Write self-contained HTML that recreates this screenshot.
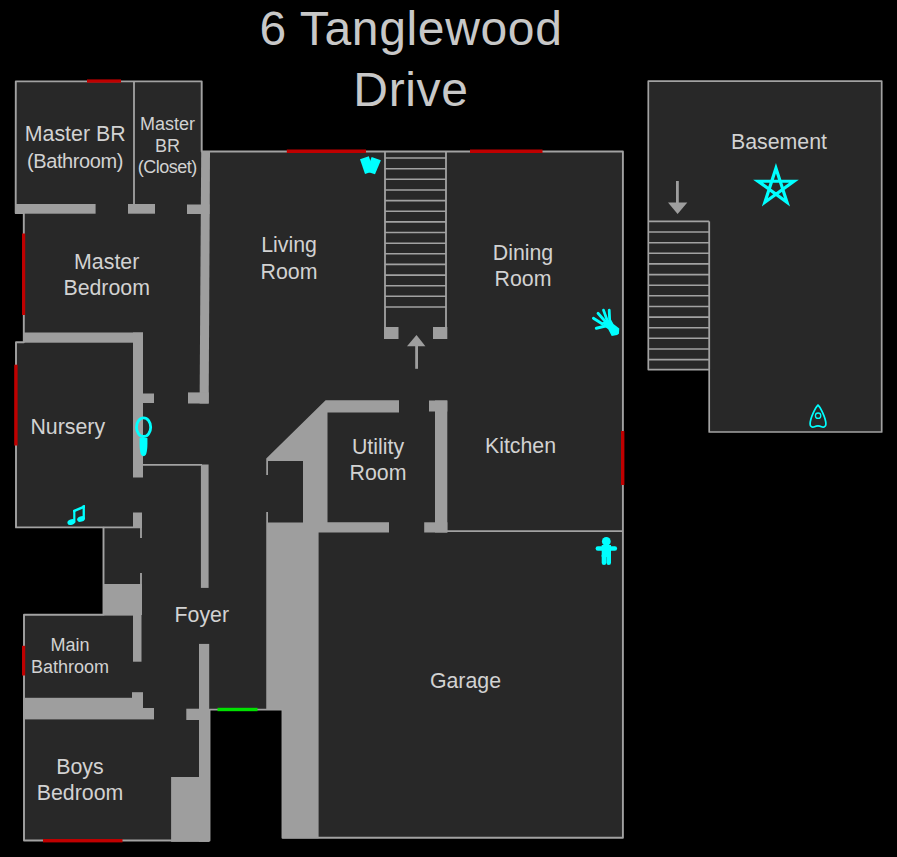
<!DOCTYPE html>
<html>
<head>
<meta charset="utf-8">
<style>
html,body{margin:0;padding:0;background:#000;width:897px;height:857px;overflow:hidden}
svg{display:block}
text{font-family:"Liberation Sans",sans-serif;fill:#d2d2d2;text-anchor:middle}
.t{font-size:21.33px}
.s{font-size:18px}
.m{font-size:20px}
.ttl{font-size:48px;fill:#c8c8c8;letter-spacing:0.65px}
.w{fill:#9e9e9e}
.r{fill:#282828}
.ln{stroke:#a2a2a2;stroke-width:1.8;fill:none}
.win{fill:#bf0000}
.cy{fill:#00ffff}
</style>
</head>
<body>
<svg width="897" height="857" viewBox="0 0 897 857">
<rect x="0" y="0" width="897" height="857" fill="#000"/>

<!-- title -->
<text class="ttl" x="411" y="44.9">6 Tanglewood</text>
<text class="ttl" x="411" y="105.6">Drive</text>

<!-- main house outline -->
<polygon class="r" stroke="#a2a2a2" stroke-width="1.9" stroke-linejoin="round" points="15.8,81.4 201.7,81.4 201.7,151.5 622.9,151.5 622.9,837.7 282.5,837.7 282.5,709.6 209.5,709.6 209.5,840.5 24,840.5 24,614.7 103.5,614.7 103.5,527.4 16,527.4 16,342.2 23.8,342.2 23.8,213 15.7,213"/>

<!-- basement -->
<polygon class="r" stroke="#a2a2a2" stroke-width="1.7" stroke-linejoin="round" points="648.3,81.1 881.7,81.1 881.7,432 709.2,432 709.2,369.6 648.3,369.6"/>

<!-- interior thin lines -->
<g class="ln">
<line x1="134" y1="81" x2="134" y2="205"/>
<line x1="142" y1="464.8" x2="202" y2="464.8"/>
<line x1="103.5" y1="527.4" x2="141" y2="527.4"/>
<line x1="141" y1="527" x2="141" y2="538"/>
<line x1="141" y1="573" x2="141" y2="585"/>
<line x1="103.5" y1="614.7" x2="134" y2="614.7"/>
<line x1="447" y1="531.2" x2="622.9" y2="531.2"/>
</g>

<!-- main stairs -->
<g class="ln">
<line x1="385" y1="151" x2="385" y2="328"/>
<line x1="446" y1="151" x2="446" y2="328"/>
</g>
<g stroke="#a2a2a2" stroke-width="1.6">
<line x1="385" y1="158" x2="446" y2="158"/>
<line x1="385" y1="168.7" x2="446" y2="168.7"/>
<line x1="385" y1="179.3" x2="446" y2="179.3"/>
<line x1="385" y1="190" x2="446" y2="190"/>
<line x1="385" y1="200.6" x2="446" y2="200.6"/>
<line x1="385" y1="211.2" x2="446" y2="211.2"/>
<line x1="385" y1="221.9" x2="446" y2="221.9"/>
<line x1="385" y1="232.5" x2="446" y2="232.5"/>
<line x1="385" y1="243.2" x2="446" y2="243.2"/>
<line x1="385" y1="253.8" x2="446" y2="253.8"/>
<line x1="385" y1="264.4" x2="446" y2="264.4"/>
<line x1="385" y1="275.1" x2="446" y2="275.1"/>
<line x1="385" y1="285.7" x2="446" y2="285.7"/>
<line x1="385" y1="296.3" x2="446" y2="296.3"/>
<line x1="385" y1="307" x2="446" y2="307"/>
</g>

<!-- basement stairs -->
<g class="ln">
<line x1="648.6" y1="221.4" x2="709.2" y2="221.4"/>
<line x1="709.2" y1="221.4" x2="709.2" y2="369.6"/>
</g>
<g stroke="#a2a2a2" stroke-width="1.6">
<line x1="648.6" y1="232" x2="709.2" y2="232"/>
<line x1="648.6" y1="242.7" x2="709.2" y2="242.7"/>
<line x1="648.6" y1="253.3" x2="709.2" y2="253.3"/>
<line x1="648.6" y1="263.9" x2="709.2" y2="263.9"/>
<line x1="648.6" y1="274.6" x2="709.2" y2="274.6"/>
<line x1="648.6" y1="285.2" x2="709.2" y2="285.2"/>
<line x1="648.6" y1="295.8" x2="709.2" y2="295.8"/>
<line x1="648.6" y1="306.5" x2="709.2" y2="306.5"/>
<line x1="648.6" y1="317.1" x2="709.2" y2="317.1"/>
<line x1="648.6" y1="327.7" x2="709.2" y2="327.7"/>
<line x1="648.6" y1="338.3" x2="709.2" y2="338.3"/>
<line x1="648.6" y1="349" x2="709.2" y2="349"/>
<line x1="648.6" y1="359.6" x2="709.2" y2="359.6"/>
</g>

<!-- walls -->
<g class="w">
<rect x="15" y="204" width="80.6" height="9.7"/>
<rect x="128" y="204" width="27" height="9.7"/>
<rect x="187" y="204.5" width="22.5" height="9.5"/>
<polygon points="201.2,151 210,151 208.7,403.5 199.6,403.5"/>
<rect x="188" y="392.4" width="20.7" height="11.1"/>
<rect x="23" y="332.5" width="120" height="10.2"/>
<rect x="133" y="332.5" width="10" height="145"/>
<rect x="143" y="393.5" width="11" height="9.5"/>
<rect x="133" y="512.5" width="9" height="15.5"/>
<rect x="200.9" y="464.5" width="7.7" height="123.4"/>
<rect x="103.5" y="584" width="38.5" height="31"/>
<rect x="133" y="600" width="8.5" height="61.7"/>
<rect x="132" y="692.2" width="11" height="16"/>
<rect x="23" y="697.8" width="120" height="21.6"/>
<rect x="143" y="708" width="11" height="11.4"/>
<rect x="199" y="643.9" width="10.2" height="197.9"/>
<rect x="186.3" y="708.7" width="13.5" height="11.3"/>
<rect x="171.1" y="777" width="38.1" height="64.8"/>
<polygon points="325.6,400.25 399,400.25 399,412.5 327.5,412.5 327.5,522.2 389,522.2 389,532.4 318.6,532.4 318.6,838.3 282.5,838.3 282.5,709.6 266.25,709.6 266.25,458.5"/>
<rect x="429" y="400.5" width="18.3" height="11"/>
<rect x="435" y="400.5" width="12.3" height="132"/>
<rect x="424.2" y="522.3" width="23.2" height="10.2"/>
<rect x="384" y="327" width="14.5" height="12"/>
<rect x="433" y="327" width="14.3" height="12"/>
</g>
<!-- utility closet cut -->
<rect class="r" x="268" y="461" width="35" height="61.5"/>
<rect class="r" x="266" y="475" width="4" height="37"/>

<!-- windows -->
<g class="win">
<rect x="87" y="79.4" width="34" height="3.3"/>
<rect x="22" y="233.5" width="3.2" height="81.5"/>
<rect x="14.2" y="364.7" width="3.4" height="80.8"/>
<rect x="286.8" y="149.5" width="79.2" height="3.5"/>
<rect x="470" y="149.5" width="72.5" height="3.5"/>
<rect x="621" y="431" width="3.4" height="54"/>
<rect x="22" y="645.8" width="3.2" height="29.7"/>
<rect x="43" y="839" width="79.5" height="3.4"/>
</g>
<!-- front door -->
<rect x="217.5" y="707.8" width="40" height="3.4" fill="#00e000"/>

<!-- stair arrows -->
<g fill="#9e9e9e">
<polygon points="416.5,335 425.4,346.3 407,346.3"/>
<rect x="415.2" y="345" width="2.8" height="23.8"/>
<rect x="676" y="181" width="2.8" height="22"/>
<polygon points="668,202.4 687.3,202.4 677.6,214.1"/>
</g>

<!-- labels -->
<text class="t" x="75.2" y="140.9">Master BR</text>
<text class="m" x="75.2" y="167.8" textLength="96.4" lengthAdjust="spacing">(Bathroom)</text>
<text class="s" x="167.4" y="129.6">Master</text>
<text class="s" x="167.4" y="151.6">BR</text>
<text class="s" x="167.4" y="172.9" textLength="59.5" lengthAdjust="spacing">(Closet)</text>
<text class="t" x="106.7" y="269">Master</text>
<text class="t" x="106.7" y="294.6">Bedroom</text>
<text class="t" x="289" y="251.6">Living</text>
<text class="t" x="289" y="279">Room</text>
<text class="t" x="523" y="259.6">Dining</text>
<text class="t" x="523" y="286">Room</text>
<text class="t" x="520.5" y="453">Kitchen</text>
<text class="t" x="378" y="453.8">Utility</text>
<text class="t" x="378" y="480">Room</text>
<text class="t" x="67.8" y="433.8">Nursery</text>
<text class="t" x="201.8" y="622.3">Foyer</text>
<text class="s" x="70" y="651">Main</text>
<text class="s" x="70" y="673">Bathroom</text>
<text class="t" x="80" y="773.8">Boys</text>
<text class="t" x="80" y="800">Bedroom</text>
<text class="t" x="465.5" y="687.8">Garage</text>
<text class="t" x="779" y="148.8">Basement</text>

<!-- icons -->
<g class="cy">
<!-- tarot cards -->
<polygon points="371.6,157 380.9,160.3 375,174.3 366.4,171.4"/>
<polygon points="360,159.3 368.8,156.3 373.8,171 365,174"/>
<!-- mirror -->
<ellipse cx="143.6" cy="427.2" rx="7.1" ry="9.3" fill="none" stroke="#00ffff" stroke-width="2.8"/>
<path d="M139.6,438 L147.4,438 C147.6,444 147.4,452 145.8,454.8 C144.6,456.6 142.4,456.6 141.2,454.8 C139.6,452 139.4,444 139.6,438 Z"/>
<!-- music -->
<ellipse cx="71.3" cy="522.1" rx="4" ry="2.7" transform="rotate(-20 71.3 522.1)"/>
<ellipse cx="81" cy="519" rx="4" ry="2.7" transform="rotate(-20 81 519)"/>
<rect x="73.2" y="510" width="2.2" height="12.5"/>
<rect x="82.6" y="505.2" width="2.3" height="14"/>
<polygon points="73.2,509.9 84.9,505 84.9,507.8 75.4,511.8 73.2,512.4"/>
<!-- voodoo doll -->
<circle cx="606.3" cy="541.4" r="4.4"/>
<rect x="595.6" y="546.3" width="21.5" height="4.5" rx="2.2"/>
<rect x="601.7" y="545" width="9.3" height="12"/>
<rect x="601.7" y="553" width="4.6" height="12" rx="2.3"/>
<rect x="606.4" y="553" width="4.6" height="12" rx="2.3"/>
<!-- hand -->
<g stroke="#00ffff" stroke-width="2.8" stroke-linecap="round">
<line x1="593.4" y1="318.2" x2="602.5" y2="324"/>
<line x1="598" y1="313.3" x2="605.3" y2="321.5"/>
<line x1="603.5" y1="310.1" x2="607.4" y2="321"/>
<line x1="609.2" y1="310.1" x2="609.7" y2="321"/>
<line x1="596.4" y1="328.2" x2="606.5" y2="325.8" stroke-width="3.2"/>
</g>
<polygon points="601.9,322.6 610.8,319.2 613.5,323.9 619.3,328.4 618.9,333.7 617.1,335 611.7,335.9 608.2,329.3 605.4,327.2"/>
<!-- pentagram -->
<polygon points="775.95,168.25 787,202.26 758.07,181.24 793.83,181.24 764.9,202.26" fill="none" stroke="#00ffff" stroke-width="3.2" stroke-linejoin="miter"/>
<!-- planchette -->
<path d="M818,405.2 C820.5,407.5 825.8,418 825.9,424 C826,427 823.5,427.6 821.5,426.7 C819.5,425.8 816.5,425.8 814.5,426.7 C812.5,427.6 810,427 810.1,424 C810.2,418 815.5,407.5 818,405.2 Z" fill="none" stroke="#00ffff" stroke-width="1.7"/>
<circle cx="818.1" cy="415.7" r="2.7" fill="none" stroke="#00ffff" stroke-width="1.3"/>
</g>
</svg>
</body>
</html>
